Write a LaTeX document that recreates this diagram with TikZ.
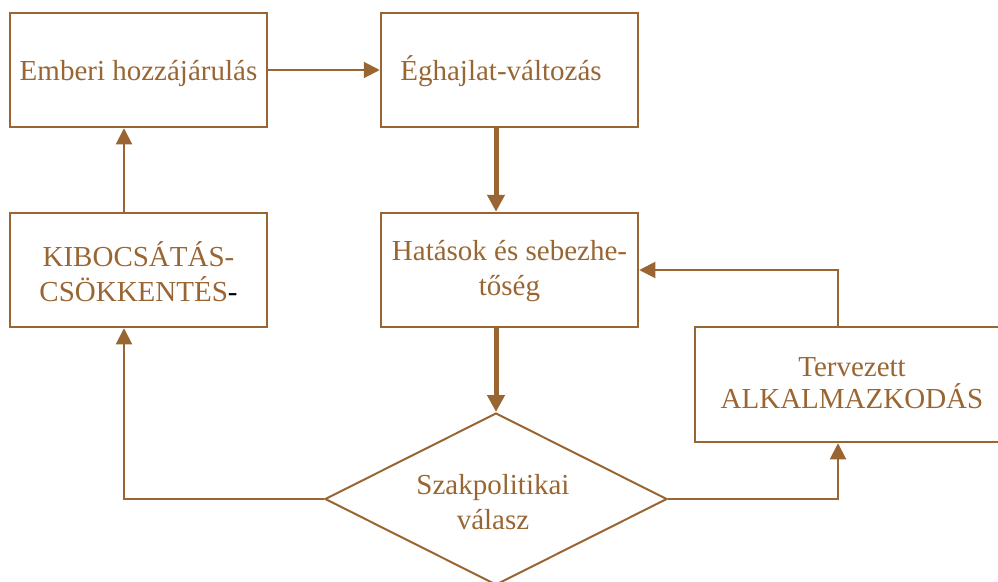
\documentclass[tikz,border=0pt]{standalone}
\usepackage{fontspec}
\setmainfont{Liberation Serif}
\usetikzlibrary{arrows.meta,shapes.geometric}
\definecolor{br}{RGB}{153,102,51}
\begin{document}
\begin{tikzpicture}[x=1pt,y=-1pt,
  box/.style={draw=br,line width=2.5pt,minimum width=257pt,minimum height=114pt,inner sep=2pt,align=center,text=br,font=\fontsize{29}{35}\selectfont},
  lbl/.style={text=br,align=center,inner sep=0pt,font=\fontsize{29}{35}\selectfont},
  thinarr/.style={draw=br,line width=2pt,-{Triangle[length=16pt,width=16pt]}},
  thickarr/.style={draw=br,line width=5pt,-{Triangle[length=17pt,width=17pt]}},
  thinline/.style={draw=br,line width=2pt}]
\useasboundingbox (0,0) rectangle (998,581);
\clip (0,0) rectangle (998,581);
\node[box] (e1) at (138.5,70) {};
\node[lbl,anchor=base] (e1t) at (138.5,80) {Emberi hozzájárulás};
\node[box] (e2) at (509.5,70) {};
\node[lbl,anchor=base] (e2t) at (501,80) {Éghajlat-változás};
\node[box] (h) at (509.5,270) {};
\node[lbl] (ht) at (509.5,271) {Hatások és sebezhe-\\tőség};
\node[box] (k) at (138.5,270) {};
\node[lbl] (kt) at (138.5,272) {KIBOCSÁTÁS-\\CSÖKKENTÉS{\color{black}-}};
\node[box,minimum width=310pt,minimum height=115pt] (t) at (850,384.5) {};
\node[lbl,font=\fontsize{29}{32}\selectfont] (tt) at (852,383) {Tervezett\\ALKALMAZKODÁS};
\node[diamond,draw=br,line width=2pt,minimum width=342pt,minimum height=172pt,inner sep=0pt] (d) at (496,499) {};
\node[lbl] (dt) at (493,502) {Szakpolitikai\\válasz};
\coordinate (lx) at (124,0);
\coordinate (rx) at (838,0);
\draw[thinarr] (e1.east) -- (e2.west);
\draw[thickarr] (e2.south -| d.north) -- (h.north -| d.north);
\draw[thickarr] (h.south -| d.north) -- (d.north);
\draw[thinarr] (d.west) -| (lx |- k.south);
\draw[thinarr] (k.north -| lx) -- (e1.south -| lx);
\draw[thinarr] (d.east) -| (rx |- t.south);
\draw[thinarr] (t.north -| rx) |- (h.east);
\end{tikzpicture}
\end{document}
